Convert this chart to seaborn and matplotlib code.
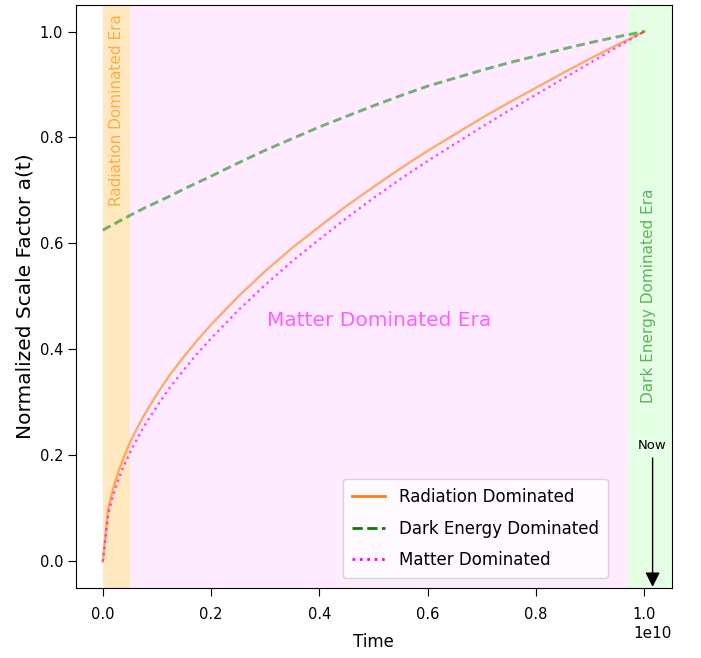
import numpy as np
import pandas as pd
import matplotlib
matplotlib.use("Agg")
import matplotlib.pyplot as plt
from matplotlib.lines import Line2D
import seaborn as sns

# ---- data (time in units of 1e10) ----
time_e10 = [0, 0.01, 0.02, 0.03, 0.04, 0.05, 0.06, 0.075, 0.1, 0.125, 0.15, 0.175,
            0.2, 0.25, 0.3, 0.35, 0.4, 0.45, 0.5, 0.55, 0.6, 0.65, 0.7, 0.75,
            0.8, 0.85, 0.9, 0.95, 1.0]
radiation = [0, 0.100, 0.141, 0.173, 0.200, 0.224, 0.245, 0.274, 0.316, 0.354,
             0.387, 0.418, 0.447, 0.500, 0.548, 0.592, 0.632, 0.671, 0.707,
             0.742, 0.775, 0.806, 0.837, 0.866, 0.894, 0.922, 0.949, 0.975, 1.0]
matter = [0, 0.090, 0.128, 0.158, 0.183, 0.205, 0.225, 0.253, 0.293, 0.330,
          0.362, 0.393, 0.421, 0.474, 0.522, 0.567, 0.608, 0.648, 0.686,
          0.722, 0.756, 0.788, 0.820, 0.851, 0.881, 0.911, 0.941, 0.971, 1.0]
dark_energy = [0.625, 0.631, 0.636, 0.642, 0.647, 0.653, 0.658, 0.666, 0.678,
               0.690, 0.703, 0.715, 0.727, 0.752, 0.776, 0.798, 0.820, 0.840,
               0.860, 0.879, 0.897, 0.912, 0.927, 0.941, 0.954, 0.967, 0.979,
               0.990, 1.0]
series_labels = ["Radiation Dominated", "Dark Energy Dominated", "Matter Dominated"]

t = np.array(time_e10) * 1e10
df = pd.DataFrame({"Time": t, "rad": radiation, "mat": matter, "de": dark_energy})

fig = plt.figure(figsize=(7.01, 6.58), dpi=100)
ax = fig.add_axes([0.108, 0.1064, 0.85, 0.886])

# era shading
ax.axvspan(0, 0.05e10, color="orange", alpha=0.25, lw=0)
ax.axvspan(0.05e10, 0.97e10, color="magenta", alpha=0.08, lw=0)
ax.axvspan(0.97e10, 1.06e10, color="lime", alpha=0.1, lw=0)

sns.lineplot(data=df, x="Time", y="rad", ax=ax, color="#ff7f0e", alpha=0.6,
             lw=1.7, linestyle="-", legend=False)
sns.lineplot(data=df, x="Time", y="de", ax=ax, color="green", alpha=0.55,
             lw=2.1, linestyle=(0, (3.0, 1.6)), legend=False)
sns.lineplot(data=df, x="Time", y="mat", ax=ax, color="magenta", alpha=0.7,
             lw=1.7, linestyle=":", legend=False)

ax.set_xlim(-0.05e10, 1.05e10)
ax.set_ylim(-0.05, 1.05)
ax.set_xlabel("Time", fontsize=12, labelpad=8)
ax.set_ylabel("Normalized Scale Factor a(t)", fontsize=14.5)
ax.tick_params(labelsize=10.5, length=5.5)
ax.tick_params(axis="x", pad=8)
ax.xaxis.get_offset_text().set_fontsize(11)

ax.text(0.025e10, 0.852, "Radiation Dominated Era", rotation=90, ha="center",
        va="center", fontsize=11, color="darkorange", alpha=0.65)
ax.text(1.008e10, 0.502, "Dark Energy Dominated Era", rotation=90, ha="center",
        va="center", fontsize=11, color="green", alpha=0.6)
ax.text(0.511e10, 0.454, "Matter Dominated Era", ha="center", va="center",
        fontsize=14.5, color="magenta", alpha=0.6)

ax.annotate("Now", xy=(1.015e10, -0.048), xytext=(1.015e10, 0.218),
            ha="center", va="center", fontsize=9.5,
            arrowprops=dict(arrowstyle="-|>", color="black", lw=1,
                            mutation_scale=22, shrinkA=2, shrinkB=0))

handles = [Line2D([], [], color="#ff7f0e", lw=2, linestyle="-"),
           Line2D([], [], color="green", lw=2, linestyle="--"),
           Line2D([], [], color="magenta", lw=2, linestyle=":")]
ax.legend(handles, series_labels, loc="lower right",
          bbox_to_anchor=(0.893, 0.017), borderaxespad=0, fontsize=12,
          labelspacing=0.8, borderpad=0.55)

fig.savefig("out.png", dpi=100)
